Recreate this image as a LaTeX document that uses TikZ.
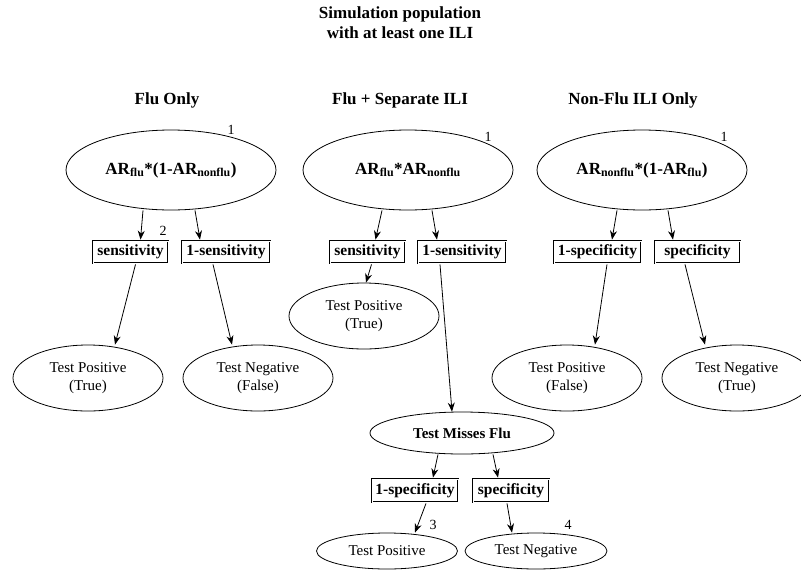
\documentclass[tikz,border=0pt]{standalone}
\usepackage{fontspec}
\setmainfont{Liberation Serif}
\usetikzlibrary{shapes.geometric,arrows.meta}

\begin{document}
\begin{tikzpicture}[x=1pt,y=-1pt,->,>={Stealth[length=9pt,width=7pt]},line width=0.8pt,
    head node/.style={font=\fontsize{17}{20}\selectfont\bfseries,align=center},
    main node/.style={ellipse,draw,inner sep=0pt,minimum width=210pt,minimum height=80pt,font=\fontsize{17}{20}\selectfont\bfseries},
    leaf node/.style={ellipse,draw,inner sep=0pt,minimum width=150pt,minimum height=66pt,align=center,font=\fontsize{15}{18}\selectfont},
    prob node/.style={rectangle,draw=black,line width=2.8pt,postaction={draw=white,line width=1pt},inner sep=1pt,minimum height=22pt,font=\fontsize{15.5}{18}\selectfont\bfseries},
    num node/.style={font=\fontsize{14}{16}\selectfont}]
                \useasboundingbox (0,0) rectangle (801,571);
                \node[head node] (title) at (400,23) {Simulation population\\with at least one ILI};
                \node[head node] (hflu) at (167,100) {Flu Only};
                \node[head node] (hsep) at (400,100) {Flu + Separate ILI};
                \node[head node] (hnon) at (633,100) {Non-Flu ILI Only};

                \node[main node] (flu) at (171,170) {AR\textsubscript{flu}*(1-AR\textsubscript{nonflu})};
                \node[main node] (sep) at (408,170) {AR\textsubscript{flu}*AR\textsubscript{nonflu}};
                \node[main node] (non) at (642,170) {AR\textsubscript{nonflu}*(1-AR\textsubscript{flu})};
                \node[num node] (n1a) at (231,130) {1};
                \node[num node] (n1b) at (488,137) {1};
                \node[num node] (n1c) at (724,137) {1};

                \node[prob node] (sens1) [minimum width=75pt] at (130.5,252) {sensitivity};
                \node[prob node] (nsens1) [minimum width=88pt] at (226,252) {1-sensitivity};
                \node[prob node] (sens2) [minimum width=75pt] at (367.5,252) {sensitivity};
                \node[prob node] (nsens2) [minimum width=88pt] at (462,252) {1-sensitivity};
                \node[prob node] (nspec3) [minimum width=87pt] at (597.5,252) {1-specificity};
                \node[prob node] (spec3) [minimum width=85pt] at (697.5,252) {specificity};
                \node[num node] (n2) at (163,231) {2};

                \node[leaf node] (tp1) at (88,378) {Test Positive\\(True)};
                \node[leaf node] (tn1) at (258,378) {Test Negative\\(False)};
                \node[leaf node] (tp2) at (364,316) {Test Positive\\(True)};
                \node[leaf node] (tp3) at (567,378) {Test Positive\\(False)};
                \node[leaf node] (tn3) at (737,378) {Test Negative\\(True)};

                \node[leaf node] (tmf) [minimum width=184pt,minimum height=42pt,font=\fontsize{15}{18}\selectfont\bfseries] at (462,433) {Test Misses Flu};
                \node[prob node] (nspec4) [minimum width=86pt,minimum height=23pt] at (415,490.5) {1-specificity};
                \node[prob node] (spec4) [minimum width=76pt,minimum height=23pt] at (511,490.5) {specificity};
                \node[num node] (n3) at (433,525) {3};
                \node[num node] (n4) at (568,525) {4};
                \node[leaf node] (tp4) [minimum width=141pt,minimum height=36pt] at (387,551) {Test Positive};
                \node[leaf node] (tn4) [minimum width=142pt,minimum height=36pt] at (536,551) {Test Negative};

                \path
                    ([xshift=-28pt]flu.south) edge ([xshift=10pt]sens1.north)
                    ([xshift=24pt]flu.south) edge ([xshift=-26pt]nsens1.north)
                    ([xshift=5pt]sens1.south) edge ([xshift=27pt]tp1.north)
                    ([xshift=-13pt]nsens1.south) edge ([xshift=-26pt]tn1.north)
                    ([xshift=-26pt]sep.south) edge ([xshift=8pt]sens2.north)
                    ([xshift=24pt]sep.south) edge ([xshift=-25pt]nsens2.north)
                    ([xshift=4pt]sens2.south) edge ([xshift=2pt]tp2.north)
                    ([xshift=-22pt]nsens2.south) edge ([xshift=-10pt]tmf.north)
                    ([xshift=-25pt]non.south) edge ([xshift=14.5pt]nspec3.north)
                    ([xshift=26pt]non.south) edge ([xshift=-24.5pt]spec3.north)
                    ([xshift=9.5pt]nspec3.south) edge ([xshift=28pt]tp3.north)
                    ([xshift=-12.5pt]spec3.south) edge ([xshift=-32pt]tn3.north)
                    ([xshift=-24pt]tmf.south) edge ([xshift=18pt]nspec4.north)
                    ([xshift=31pt]tmf.south) edge ([xshift=-13pt]spec4.north)
                    ([xshift=11pt]nspec4.south) edge ([xshift=28pt]tp4.north)
                    ([xshift=-4pt]spec4.south) edge ([xshift=-24pt]tn4.north)
                ;
            \end{tikzpicture}
\end{document}
